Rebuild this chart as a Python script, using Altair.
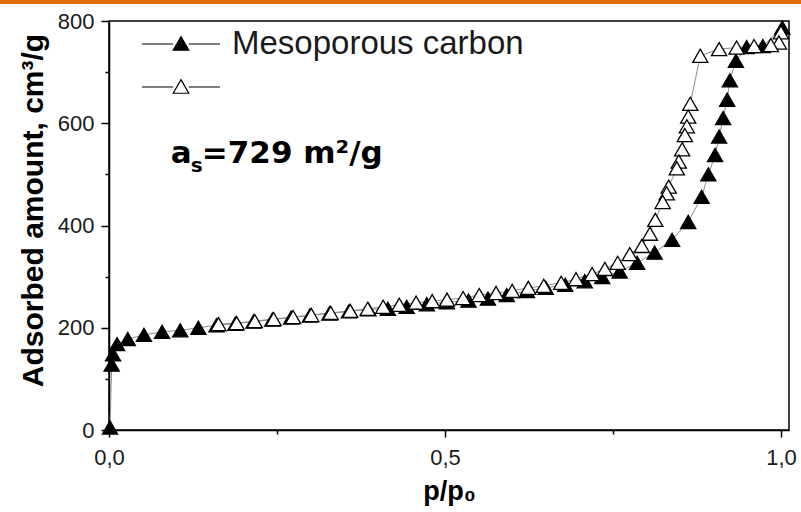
import altair as alt
import pandas as pd

# ---------------- data ----------------
ads_x = [0.0015, 0.004, 0.006, 0.012, 0.028, 0.052, 0.079, 0.106, 0.133,
         0.160, 0.188, 0.215, 0.243, 0.271, 0.299, 0.328, 0.357, 0.386,
         0.415, 0.443, 0.473, 0.503, 0.535, 0.564, 0.592, 0.622, 0.650,
         0.679, 0.708, 0.734, 0.760, 0.786, 0.812, 0.838, 0.862, 0.882,
         0.892, 0.902, 0.908, 0.914, 0.920, 0.924, 0.933, 0.949, 0.973, 1.002]
ads_y = [5, 128, 148, 168, 178, 186, 192, 195, 200,
         205, 208, 212, 216, 220, 224, 228, 232, 236,
         237, 241, 246, 250, 253, 257, 264, 272, 278,
         284, 291, 299, 310, 327, 347, 372, 407, 456,
         500, 538, 574, 610, 646, 684, 722, 749, 751, 787]

des_x = [1.000, 0.997, 0.985, 0.960, 0.934, 0.908, 0.880, 0.865, 0.862,
         0.860, 0.857, 0.853, 0.848, 0.845, 0.833, 0.830, 0.824, 0.813,
         0.805, 0.793, 0.775, 0.757, 0.738, 0.719, 0.695, 0.673, 0.647,
         0.624, 0.600, 0.576, 0.551, 0.527, 0.503, 0.481, 0.457, 0.432,
         0.408, 0.385, 0.359, 0.330, 0.301, 0.274, 0.245, 0.217, 0.190, 0.163]
des_y = [778, 758, 753, 751, 748, 745, 732, 638, 613,
         594, 577, 549, 525, 512, 476, 463, 446, 411,
         384, 360, 344, 327, 315, 305, 295, 288, 282,
         278, 272, 268, 264, 258, 255, 252, 249, 245,
         241, 237, 233, 229, 225, 221, 217, 213, 209, 207]

series_keys = ["ads", "des"]
legend_label = "Mesoporous carbon"
x_ticks = [0.0, 0.25, 0.5, 0.75, 1.0]
y_ticks = [0, 100, 200, 300, 400, 500, 600, 700, 800]
x_title = "p/p\u2080"
y_title = "Adsorbed amount, cm\u00b3/g"
note_a = "a"
note_s = "s"
note_rest = "=729 m\u00b2/g"
note_pos = {"p": [0.092], "v": [522]}

rows = []
for i, (x, y) in enumerate(zip(ads_x, ads_y)):
    rows.append({"p": x, "v": y, "s": "ads", "o": i})
for i, (x, y) in enumerate(zip(des_x, des_y)):
    rows.append({"p": x, "v": y, "s": "des", "o": i})
df = pd.DataFrame(rows)
note_df = pd.DataFrame(note_pos)

FONT = "Liberation Sans"

xscale = alt.Scale(domain=[0, 1.012], nice=False, zero=False)
yscale = alt.Scale(domain=[0, 800], nice=False)

x_axis = alt.Axis(
    values=x_ticks,
    labelExpr="(datum.value == 0.25 || datum.value == 0.75) ? '' : replace(format(datum.value, '.1f'), '.', ',')",
    tickSize={"condition": {"test": "datum.value == 0.25 || datum.value == 0.75", "value": 4}, "value": 7},
    labelPadding=10,
    labelFlush=False,
    labelOverlap=False,
    title=x_title,
    titleFontSize=27,
    titleFontWeight="bold",
    titleBaseline="alphabetic",
    titleY=69,
    grid=False,
)
y_axis = alt.Axis(
    values=y_ticks,
    labelExpr="datum.value % 200 == 0 ? datum.value : ''",
    tickSize={"condition": {"test": "datum.value % 200 != 0", "value": 4}, "value": 8},
    labelPadding=7,
    labelFlush=False,
    labelOverlap=False,
    title=y_title,
    titleFontSize=30,
    titleFontWeight="bold",
    titleAngle=270,
    titleAlign="center",
    titleBaseline="alphabetic",
    titleX=-67,
    titleY=189,
    grid=False,
)

base = alt.Chart(df)

lines = base.mark_line(color="#8c8c8c", strokeWidth=1).encode(
    x=alt.X("p:Q", scale=xscale, axis=x_axis),
    y=alt.Y("v:Q", scale=yscale, axis=y_axis),
    detail="s:N",
    order="o:Q",
)

legend_path = "M-1,0H-0.2M0.2,0H1M0,-0.19L0.2,0.16L-0.2,0.16Z"

points = base.mark_point(
    shape="triangle-up", filled=True, size=230, stroke="black", strokeWidth=1.3, opacity=1
).encode(
    x=alt.X("p:Q", scale=xscale),
    y=alt.Y("v:Q", scale=yscale),
    fill=alt.Fill(
        "s:N",
        scale=alt.Scale(domain=series_keys, range=["black", "white"]),
        legend=alt.Legend(
            title=None,
            orient="none",
            legendX=32,
            legendY=1.5,
            padding=0,
            symbolType=legend_path,
            symbolSize=6084,
            symbolStrokeColor="black",
            symbolStrokeWidth=1.2,
            symbolOpacity=1,
            labelExpr="datum.value == 'ads' ? '" + legend_label + "' : ''",
            labelFont=FONT,
            labelFontSize=33,
            labelColor="#1a1a1a",
            labelOffset=11,
            labelLimit=600,
            clipHeight=43,
            rowPadding=0,
        ),
    ),
)

note_font = "DejaVu Sans"
t_a = alt.Chart(note_df).mark_text(
    text=note_a, font=note_font, fontWeight="bold", fontSize=31, align="left",
    baseline="alphabetic", color="black"
).encode(x=alt.X("p:Q", scale=xscale), y=alt.Y("v:Q", scale=yscale))
t_s = alt.Chart(note_df).mark_text(
    text=note_s, font=note_font, fontWeight="bold", fontSize=20, align="left",
    baseline="alphabetic", color="black", dx=20, dy=9
).encode(x=alt.X("p:Q", scale=xscale), y=alt.Y("v:Q", scale=yscale))
t_rest = alt.Chart(note_df).mark_text(
    text=note_rest, font=note_font, fontWeight="bold", fontSize=31, align="left",
    baseline="alphabetic", color="black", dx=31
).encode(x=alt.X("p:Q", scale=xscale), y=alt.Y("v:Q", scale=yscale))

orange = alt.Chart(note_df).mark_rule(color="#E46C0A", strokeWidth=4).encode(
    x=alt.value(-109), x2=alt.value(692), y=alt.value(-19)
)

chart = alt.layer(lines, points, t_a, t_s, t_rest, orange).properties(
    width=680,
    height=409,
    autosize=alt.AutoSizeParams(type="none"),
    padding={"left": 109, "top": 21, "right": 12, "bottom": 82},
    background="white",
).configure_view(
    stroke="black", strokeWidth=1.5
).configure_axis(
    domainColor="black",
    domainWidth=1.5,
    tickColor="black",
    tickWidth=1.5,
    labelFont=FONT,
    labelFontSize=22,
    labelColor="#1a1a1a",
    titleFont=FONT,
    titleColor="black",
)

chart.save("out.html", embed_options={"renderer": "svg", "actions": False})
